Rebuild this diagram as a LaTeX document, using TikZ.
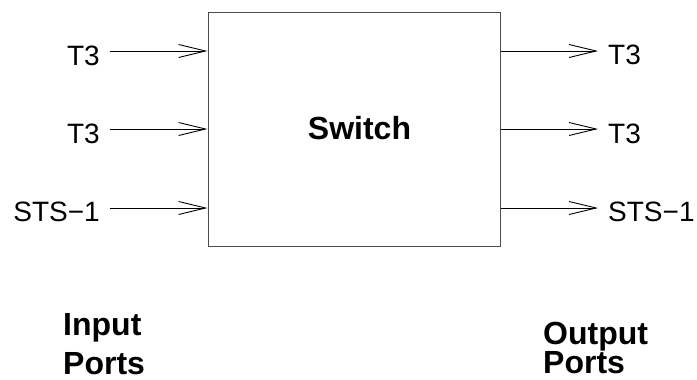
\documentclass[tikz,border=0pt]{standalone}
\usepackage{fontspec}
\setmainfont{Liberation Sans}
\usetikzlibrary{arrows.meta}

\tikzset{
  port/.style={inner sep=0pt, font=\fontsize{28}{34}\selectfont},
  title/.style={inner sep=0pt, align=left, font=\fontsize{32}{38}\selectfont\bfseries},
  flow/.style={line width=0.9pt, -{Straight Barb[length=27pt, width=13pt, line width=0.9pt]}}
}

\begin{document}
\begin{tikzpicture}[x=1pt, y=-1pt]
        % Marco
        \useasboundingbox (0, 0) rectangle (697, 380);

        % Conmutador
        \node[draw=black!70, line width=1pt, minimum width=292pt, minimum height=234pt, inner sep=0pt] (switch) at (354, 129) {};
        \node[inner sep=0pt, font=\fontsize{32}{38}\selectfont\bfseries] (swname) at (359.5, 128) {Switch};

        % Puertos de entrada
        \node[port, anchor=base east] (in1) at (100, 65) {T3};
        \node[port, anchor=base east] (in2) at (100, 143) {T3};
        \node[port, anchor=base east] (in3) at (100, 221.5) {STS−1};
        \coordinate (a1) at (110, 51);
        \coordinate (a2) at (110, 129);
        \coordinate (a3) at (110, 208);
        \draw[flow] (a1) -- (switch.west |- a1);
        \draw[flow] (a2) -- (switch.west |- a2);
        \draw[flow] (a3) -- (switch.west |- a3);

        % Puertos de salida
        \node[port, anchor=base west] (out1) at (608, 64.5) {T3};
        \node[port, anchor=base west] (out2) at (608, 143) {T3};
        \node[port, anchor=base west] (out3) at (608, 221.5) {STS−1};
        \coordinate (b1) at (598, 51);
        \coordinate (b2) at (598, 129);
        \coordinate (b3) at (598, 208);
        \draw[flow] (switch.east |- b1) -- (b1);
        \draw[flow] (switch.east |- b2) -- (b2);
        \draw[flow] (switch.east |- b3) -- (b3);

        % Rotulos
        \node[title, anchor=north west] (inports) at (63, 313) {Input\\[1pt]Ports};
        \node[title, anchor=north west] (outports) at (543, 322) {Output\\[-9pt]Ports};

    \end{tikzpicture}
\end{document}
